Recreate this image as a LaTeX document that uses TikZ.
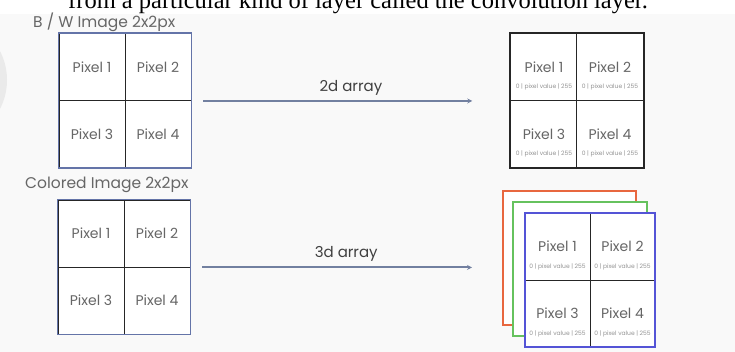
\documentclass[tikz,border=0pt]{standalone}
\usepackage{fontspec}
\setmainfont{Liberation Serif}
\newfontfamily\pop{Poppins}
\usetikzlibrary{arrows.meta}
\definecolor{PageBg}{HTML}{F9F9F9}
\definecolor{Label}{HTML}{666666}
\definecolor{FrameBlue}{HTML}{6474A8}
\definecolor{ArrowGray}{HTML}{7280A0}
\definecolor{LayerRed}{HTML}{E8673F}
\definecolor{LayerGreen}{HTML}{66C25E}
\definecolor{LayerBlue}{HTML}{5454D6}
\definecolor{Blob}{HTML}{EAEAEA}

\begin{document}
\begin{tikzpicture}[x=1pt,y=-1pt,every node/.style={font=\pop,text=Label},
  cell/.style={draw=black!85,line width=0.9pt,fill=white,minimum width=66pt,minimum height=67pt,inner sep=0pt,font=\pop\fontsize{14}{16}\selectfont},
  subtext/.style={inner sep=0pt,font=\pop\fontsize{6}{7}\selectfont,text=Label!70},
  title/.style={anchor=west,inner sep=0pt,font=\pop\fontsize{15.5}{17}\selectfont},
  arrowlabel/.style={midway,above=5pt,inner sep=0pt,font=\pop\fontsize{15}{17}\selectfont,text=black!75},
  link/.style={ArrowGray,line width=2pt,-{Stealth[length=5pt,width=5pt]}}]
\useasboundingbox (0,0) rectangle (735,352);
\clip (0,0) rectangle (735,352);
\fill[white] (0,0) rectangle (735,352);
\fill[PageBg] (0,14) rectangle (735,352);
\fill[Blob] (-42,80) ellipse (49 and 56);
\node[anchor=base west,inner sep=0pt,font=\fontsize{24.5}{27}\selectfont,text=black] (intro) at (68,9) {from a particular kind of layer called the convolution layer.};
% black & white image
\node[title] (bwtitle) at (33,22) {B / W Image 2x2px};
\node[cell] (bw1) at (92,67) {Pixel 1};
\node[cell] (bw2) at (158,67) {Pixel 2};
\node[cell] (bw3) at (92,134) {Pixel 3};
\node[cell] (bw4) at (158,134) {Pixel 4};
\draw[FrameBlue,line width=1.5pt] (bw1.north west) rectangle (bw4.south east);
% 2d array
\node[cell,minimum width=66.5pt] (two1) at (544,67) {Pixel 1};
\node[cell,minimum width=66.5pt] (two2) at (610,67) {Pixel 2};
\node[cell,minimum width=66.5pt] (two3) at (544,134) {Pixel 3};
\node[cell,minimum width=66.5pt] (two4) at (610,134) {Pixel 4};
\draw[black!85,line width=2pt] (two1.north west) rectangle (two4.south east);
\foreach \c in {1,2,3,4} \node[subtext] (twosub\c) at ([yshift=-20pt]two\c.center) {0 | pixel value | 255};
\draw[link,shorten <=12pt,shorten >=38pt] (bw2.south east) -- (bw2.south east -| two1.west) node[arrowlabel] (twolabel) {2d array};
% colored image
\node[title] (coltitle) at (25,185) {Colored Image 2x2px};
\node[cell] (col1) at (91,233.5) {Pixel 1};
\node[cell] (col2) at (157,233.5) {Pixel 2};
\node[cell] (col3) at (91,300.5) {Pixel 3};
\node[cell] (col4) at (157,300.5) {Pixel 4};
\draw[FrameBlue,line width=1.5pt] (col1.north west) rectangle (col4.south east);
% 3d array
\node[draw=LayerRed,line width=2pt,fill=white,minimum width=133pt,minimum height=134pt] (red) at (569.5,258) {};
\node[draw=LayerGreen,line width=2pt,fill=white,minimum width=134pt,minimum height=134pt] (green) at (580,269) {};
\node[cell,minimum width=65pt] (three1) at (557.5,246.5) {Pixel 1};
\node[cell,minimum width=65pt] (three2) at (622.5,246.5) {Pixel 2};
\node[cell,minimum width=65pt] (three3) at (557.5,313.5) {Pixel 3};
\node[cell,minimum width=65pt] (three4) at (622.5,313.5) {Pixel 4};
\draw[LayerBlue,line width=2pt] (three1.north west) rectangle (three4.south east);
\foreach \c in {1,2,3,4} \node[subtext] (threesub\c) at ([yshift=-20pt]three\c.center) {0 | pixel value | 255};
\draw[link,shorten <=12pt,shorten >=30pt] (col2.south east) -- (col2.south east -| red.west) node[arrowlabel] (threelabel) {3d array};
\end{tikzpicture}
\end{document}
